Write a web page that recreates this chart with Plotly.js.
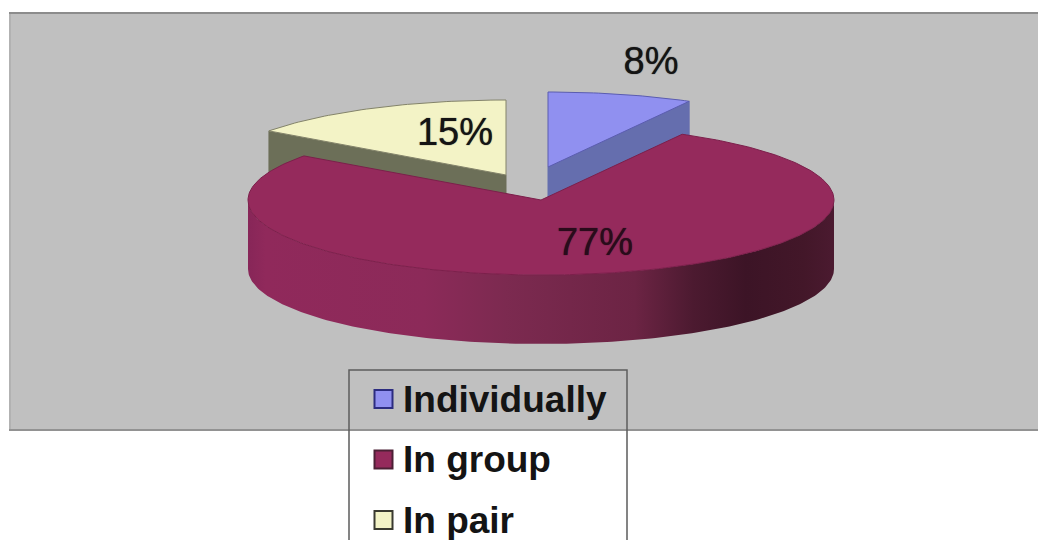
<!DOCTYPE html>
<html>
<head>
<meta charset="utf-8">
<script src="https://cdn.plot.ly/plotly-3.0.1.min.js"></script>
<style>html,body{margin:0;padding:0;background:#fff}#chart{width:1038px;height:540px}</style>
</head>
<body>
<div id="chart"></div>
<script>
// Shares of work mode, clockwise from twelve o'clock.
const categories = ['Individually', 'In group', 'In pair'];
const shares = [8, 77, 15];

// Fill colours per slice.
const topColors = ['#9090f0', '#952a5c', '#f3f3c6'];
const edgeColors = ['#5a5cb0', '#7c1f4b', '#83836a'];
const wallColors = ['#656eae', '#952a5c', '#6c6f58'];
const swatchEdges = ['#2c2c80', '#4c2035', '#3a3a30'];

// Projection of the tilted disc, in plot units.
const RX = 293, RY = 75, DEPTH = 69;
const centres = [[548, 167], [541, 200], [506, 175]];
const labelSpots = [[651, 64], [595, 245], [455, 135]];

const total = shares.reduce((a, b) => a + b, 0);
const bounds = [];
shares.reduce((acc, v) => { bounds.push([acc / total, (acc + v) / total]); return acc + v; }, 0);

// Point on the rim at a clockwise fraction of the full turn.
function rim(frac, c, drop) {
  const a = frac * 2 * Math.PI;
  return [c[0] + RX * Math.sin(a), c[1] - RY * Math.cos(a) + (drop || 0)];
}

function arc(from, to, c, drop) {
  const n = Math.max(2, Math.ceil(Math.abs(to - from) * 360));
  const pts = [];
  for (let i = 0; i <= n; i++) pts.push(rim(from + (to - from) * i / n, c, drop));
  return pts;
}

function poly(pts, extra) {
  return Object.assign({
    type: 'scatter', mode: 'lines', fill: 'toself', hoverinfo: 'skip', showlegend: false,
    x: pts.map(p => p[0]), y: pts.map(p => p[1])
  }, extra);
}

// Flat top of a slice: hub, rim arc, back to the hub.
function topFace(i) {
  const c = centres[i];
  const pts = [c].concat(arc(bounds[i][0], bounds[i][1], c)).concat([c]);
  return poly(pts, {
    name: categories[i], fillcolor: topColors[i], hoverinfo: 'name',
    line: { color: edgeColors[i], width: 1 }
  });
}

// Cut wall running from the hub to one radial edge of an exploded slice.
function cutWall(i, frac) {
  const c = centres[i];
  const tip = rim(frac, c);
  const pts = [c, tip, [tip[0], tip[1] + DEPTH], [c[0], c[1] + DEPTH], c];
  return poly(pts, { fillcolor: wallColors[i], line: { color: wallColors[i], width: 1 } });
}

// Curved front wall of the large slice, shaded from left to right.
const g = centres[1];
const frontTop = arc(0.25, 0.75, g);
const frontBottom = arc(0.75, 0.25, g, DEPTH);
const frontWall = poly(frontTop.concat(frontBottom).concat([frontTop[0]]), {
  line: { color: '#5a1a3a', width: 0 },
  fillgradient: {
    type: 'horizontal',
    colorscale: [
      [0, '#872658'], [0.03, '#90295b'], [0.30, '#8c2a59'], [0.44, '#7c2a50'],
      [0.66, '#6c2444'], [0.76, '#4c1a30'], [0.85, '#3c1426'], [0.95, '#431729'], [1, '#4b1a30']
    ]
  }
});

const traces = [
  cutWall(2, bounds[2][0]), topFace(2),
  cutWall(0, bounds[0][1]), topFace(0),
  frontWall, topFace(1)
];

// Percentage labels, thickened slightly with a tight halo.
traces.push({
  type: 'scatter', mode: 'text', hoverinfo: 'skip', showlegend: false,
  x: labelSpots.map(p => p[0]), y: labelSpots.map(p => p[1]),
  text: shares.map(v => v + '%'),
  textposition: 'middle center',
  textfont: {
    family: 'Liberation Sans, Arial, sans-serif', size: 38,
    color: ['#141414', '#2a0b1b', '#141414'],
    shadow: '0 0 1px rgba(20,20,20,0.9)'
  }
});

// Key swatches and their names.
const keyX = 383.5, keyTextX = 403, keyRows = [399, 459.5, 520];
traces.push({
  type: 'scatter', mode: 'markers', hoverinfo: 'skip', showlegend: false,
  x: keyRows.map(() => keyX), y: keyRows,
  marker: { symbol: 'square', size: 18, color: topColors, line: { color: swatchEdges, width: 2 } }
});

const annotations = categories.map((name, i) => ({
  x: keyTextX, y: keyRows[i], xref: 'x', yref: 'y', text: '<b>' + name + '</b>', showarrow: false,
  xanchor: 'left', yanchor: 'middle', xshift: -2, yshift: 0,
  font: { family: 'Liberation Sans, Arial, sans-serif', size: 37, color: '#141414' }
}));

const shapes = [
  { type: 'rect', layer: 'below', xref: 'x', yref: 'y', x0: 9, x1: 1040, y0: 12, y1: 431,
    fillcolor: '#c0c0c0', line: { width: 0 } },
  { type: 'line', layer: 'below', xref: 'x', yref: 'y', x0: 9, x1: 1040, y0: 13, y1: 13,
    line: { color: '#8c8c8c', width: 2 } },
  { type: 'line', layer: 'below', xref: 'x', yref: 'y', x0: 9, x1: 1040, y0: 430, y1: 430,
    line: { color: '#929292', width: 2 } },
  { type: 'line', layer: 'below', xref: 'x', yref: 'y', x0: 10, x1: 10, y0: 14, y1: 429,
    line: { color: '#b2b2b2', width: 2 } },
  { type: 'rect', layer: 'above', xref: 'x', yref: 'y', x0: 349, x1: 627, y0: 370, y1: 560,
    fillcolor: 'rgba(0,0,0,0)', line: { color: '#5c5c5c', width: 1.5 } }
];

const layout = {
  width: 1038, height: 540,
  margin: { l: 0, r: 0, t: 0, b: 0 },
  paper_bgcolor: '#ffffff', plot_bgcolor: '#ffffff',
  showlegend: false,
  xaxis: { range: [0, 1038], visible: false, fixedrange: true },
  yaxis: { range: [540, 0], visible: false, fixedrange: true },
  shapes, annotations
};

Plotly.newPlot('chart', traces, layout, { displayModeBar: false });
</script>
</body>
</html>
